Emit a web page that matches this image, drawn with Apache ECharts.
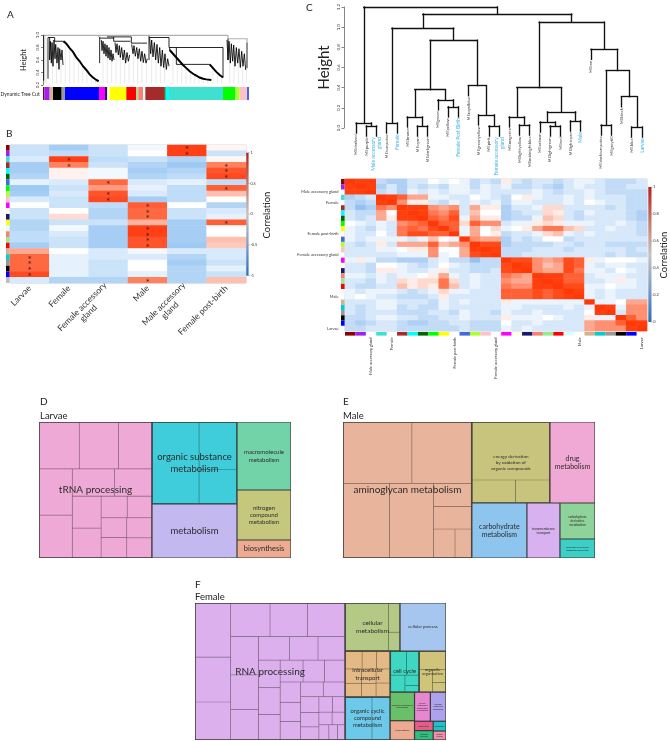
<!DOCTYPE html>
<html>
<head>
<meta charset="utf-8">
<title>WGCNA modules and GO treemaps</title>
<script src="https://cdn.jsdelivr.net/npm/echarts@6/dist/echarts.min.js"></script>
<style>
html,body{margin:0;padding:0;background:#fff;}
#chart{width:670px;height:741px;}
</style>
</head>
<body>
<div id="chart"></div>
<script>
// ======================= DATA =======================
// ---- Panel A: gene dendrogram + module colour bar ----
const aModuleOrder = ['darkred','purple','tan','black','grey60','blue','magenta','midnightblue','lightyellow','yellow','red','lightgreen','salmon','lightcyan','brown','darkgreen','cyan','turquoise','green','greenyellow','pink','royalblue'];
const aModuleSizes = [4,16,10,26,10,102,18,7,7,50,30,6,14,7,57,4,10,162,37,13,22,6];
const aTopBars = [
  [[2,0.995],[555,0.995]],
  [[555,0.995],[555,0.94],[612,0.94],[612,0.88]],
  [[167,0.995],[167,0.97]],
  [[315,0.995],[315,0.985]]
];
const aStems = [[6,0.99],[10,0.96],[28,0.92],[41,0.88],[54,0.86],[67,0.87],[80,0.79],[93,0.71],[106,0.6],[119,0.51],[132,0.43],[145,0.35],[158,0.29],[180,0.9],[193,0.84],[206,0.78],[219,0.86],[232,0.82],[245,0.76],[258,0.7],[271,0.83],[284,0.8],[297,0.74],[310,0.68],[326,0.92],[339,0.86],[352,0.79],[365,0.7],[390,0.7],[403,0.62],[416,0.55],[429,0.48],[442,0.41],[455,0.37],[468,0.33],[481,0.3],[494,0.29],[510,0.47],[523,0.4],[536,0.34],[560,0.9],[573,0.84],[586,0.78],[599,0.74],[610,0.6]];
const aBranches = [
  [[2,0.27],[2,0.995]],
  [[15,0.3],[15,0.96],[35,0.96],[35,0.9]],
  [[20,0.96],[20,0.6],[22,0.9],[25,0.55],[27,0.88],[30,0.5],[33,0.92],[36,0.62],[38,0.85],[42,0.55],[45,0.8],[48,0.45],[50,0.78],[54,0.6],[57,0.76],[60,0.52]],
  [[35,0.9],[62,0.9],[62,0.88]],
  [[170,0.97],[170,0.55]],
  [[170,0.95],[212,0.95]],
  [[175,0.92],[177,0.75],[180,0.9],[183,0.7],[186,0.86],[189,0.66],[192,0.84],[195,0.63],[198,0.8],[201,0.6],[204,0.76],[207,0.58],[210,0.7],[213,0.6]],
  [[192,0.97],[265,0.97]],
  [[212,0.97],[212,0.9],[262,0.9]],
  [[216,0.88],[219,0.72],[222,0.86],[226,0.68],[229,0.83],[232,0.64],[236,0.8],[240,0.6],[244,0.76],[248,0.55],[252,0.72],[256,0.58],[260,0.68]],
  [[265,0.97],[265,0.87],[312,0.87]],
  [[266,0.85],[270,0.7],[273,0.83],[277,0.66],[281,0.8],[285,0.62],[289,0.78],[293,0.58],[297,0.74],[301,0.56],[305,0.7],[309,0.55],[313,0.62]],
  [[318,0.6],[318,0.985]],
  [[318,0.96],[378,0.96]],
  [[320,0.95],[323,0.7],[326,0.92],[330,0.65],[334,0.88],[338,0.6],[342,0.85],[346,0.55],[350,0.8],[354,0.5],[358,0.76],[362,0.48],[366,0.7],[370,0.45],[374,0.62],[378,0.5]],
  [[378,0.96],[378,0.8],[540,0.8],[540,0.32]],
  [[380,0.8],[380,0.76]],
  [[400,0.8],[400,0.53],[500,0.53]],
  [[555,0.94],[555,0.6]],
  [[552,0.92],[555,0.6],[558,0.9],[562,0.55],[565,0.86],[569,0.58],[572,0.84],[576,0.5],[580,0.8],[584,0.55],[588,0.78],[592,0.48],[596,0.74],[600,0.5],[604,0.7],[608,0.44]],
  [[612,0.88],[612,0.47]]
];
const aCascades = [
  [[62,0.9],[70,0.86],[80,0.79],[90,0.73],[100,0.64],[110,0.58],[120,0.5],[130,0.44],[140,0.37],[150,0.32],[160,0.28],[167,0.26]],
  [[380,0.76],[390,0.7],[400,0.64],[410,0.58],[420,0.52],[430,0.47],[440,0.42],[450,0.38],[460,0.35],[470,0.32],[480,0.3],[490,0.29],[505,0.28]],
  [[500,0.53],[510,0.47],[520,0.41],[530,0.36],[540,0.32]]
];

// ---- Panel B: module-trait correlations ----
const traitsB = ['Larvae','Female','Female accessory gland','Male','Male accessory gland','Female post-birth'];
const modulesB = ['darkred','purple','turquoise','brown','cyan','darkgreen','royalblue','green','greenyellow','pink','magenta','lightyellow','midnightblue','yellow','lightcyan','salmon','lightgreen','red','tan','darkturquoise','grey60','black','blue','grey'];
const corB = [
  [-0.2,-0.35,-0.2,-0.05,0.9,0.05],
  [-0.2,-0.25,-0.2,0.0,0.9,-0.2],
  [-0.15,0.9,-0.25,-0.2,-0.3,0.05],
  [-0.35,0.6,-0.2,-0.3,-0.4,0.6],
  [-0.35,0.08,-0.05,-0.35,-0.3,0.8],
  [-0.3,0.08,-0.05,-0.3,-0.25,0.85],
  [-0.1,-0.15,0.7,-0.15,-0.1,-0.25],
  [-0.4,-0.2,0.5,-0.1,-0.25,0.75],
  [-0.35,-0.15,0.8,-0.15,-0.25,0.35],
  [-0.15,-0.2,0.85,-0.35,-0.25,0.0],
  [0.0,-0.2,-0.25,0.75,0.0,-0.3],
  [-0.2,0.0,-0.3,0.7,-0.2,-0.15],
  [-0.2,0.2,-0.3,0.7,-0.2,-0.1],
  [-0.3,-0.2,-0.2,0.4,-0.35,0.75],
  [-0.3,-0.05,-0.35,0.9,-0.35,0.0],
  [-0.25,-0.15,-0.35,0.9,-0.35,0.0],
  [-0.25,-0.2,-0.35,0.8,-0.35,0.35],
  [-0.35,-0.2,-0.35,0.8,-0.4,0.3],
  [0.45,0.0,-0.15,-0.05,-0.15,-0.15],
  [0.7,-0.1,-0.15,-0.15,-0.3,-0.15],
  [0.7,-0.1,-0.2,0.0,-0.35,-0.2],
  [0.7,-0.1,-0.2,0.0,-0.3,-0.1],
  [0.85,-0.1,-0.2,-0.1,-0.3,-0.2],
  [-0.15,-0.3,-0.3,0.6,-0.3,0.35]
];
// significant cells: [row, column]
const sigB = [[0,4],[1,4],[2,1],[3,1],[3,5],[4,5],[5,5],[6,2],[7,5],[8,2],[9,2],[10,3],[11,3],[12,3],[13,5],[14,3],[15,3],[16,3],[17,3],[19,0],[20,0],[21,0],[22,0],[23,3]];
const corBTicks = [1,0.5,0,-0.5,-1];

// ---- Panel C: eigengene dendrogram + adjacency heatmap ----
const leavesC = ['MEdarkred','MEpurple','Male accessory gland','MEturquoise','Female','MEbrown','MEcyan','MEdarkgreen','MEgreen','MEyellow','Female Post Birth','MEroyalblue','MEgreenyellow','MEpink','Female accessory gland','MEmagenta','MElightyellow','MEmidnightblue','MEsalmon','MElightgreen','MEred','MElightcyan','Male','MEtan','MEdarkturquoise','MEgrey60','MEblack','MEblue','Larvae'];
const leafModuleC = ['darkred','purple',null,'turquoise',null,'brown','cyan','darkgreen','green','yellow',null,'royalblue','greenyellow','pink',null,'magenta','lightyellow','midnightblue','salmon','lightgreen','red','lightcyan',null,'tan','darkturquoise','grey60','black','blue',null];
const heatLabelsC = ['','','Male accessory gland','','Female','','','','','','Female post-birth','','','','Female accessory gland','','','','','','','','Male','','','','','','Larvae'];
// hclust-style merges: negative = leaf position, positive = earlier merge; third = height
const mergeC = [
  [-2,-3,0.02],[-1,1,0.05],[-4,-5,0.05],[-7,-8,0.02],[-6,4,0.11],[-10,-11,0.21],[-9,6,0.28],[5,7,0.38],
  [-14,-15,0.02],[-13,9,0.13],[-12,10,0.42],[8,11,0.87],[3,12,0.99],[-17,-18,0.03],[-16,14,0.11],
  [-20,-21,0.02],[-19,16,0.06],[-22,-23,0.07],[17,18,0.16],[15,19,0.40],[-25,-26,0.03],[-28,-29,0.01],
  [-27,22,0.31],[21,23,0.57],[-24,24,0.78],[20,25,1.05],[13,26,1.13],[2,27,1.2]
];
const corC = [
  [0.98,0.95,0.95,0.35,0.3,0.3,0.4,0.4,0.5,0.45,0.5,0.45,0.35,0.4,0.35,0.55,0.4,0.35,0.4,0.4,0.35,0.4,0.45,0.45,0.4,0.35,0.35,0.35,0.4],
  [0.95,0.98,0.95,0.3,0.4,0.3,0.4,0.35,0.4,0.35,0.45,0.45,0.35,0.45,0.4,0.45,0.35,0.35,0.4,0.35,0.3,0.4,0.45,0.4,0.4,0.35,0.35,0.4,0.4],
  [0.95,0.95,0.98,0.35,0.4,0.3,0.45,0.4,0.45,0.4,0.45,0.45,0.4,0.45,0.4,0.4,0.4,0.4,0.45,0.4,0.35,0.4,0.4,0.45,0.4,0.35,0.35,0.35,0.35],
  [0.3,0.35,0.4,0.98,0.95,0.85,0.7,0.7,0.45,0.45,0.4,0.4,0.5,0.45,0.4,0.35,0.5,0.55,0.45,0.4,0.4,0.45,0.4,0.45,0.4,0.4,0.4,0.35,0.35],
  [0.35,0.3,0.35,0.95,0.98,0.75,0.55,0.55,0.4,0.35,0.45,0.4,0.45,0.4,0.45,0.35,0.45,0.45,0.4,0.4,0.4,0.45,0.4,0.5,0.45,0.4,0.4,0.35,0.35],
  [0.35,0.25,0.3,0.8,0.75,0.98,0.95,0.95,0.75,0.7,0.75,0.4,0.7,0.55,0.55,0.3,0.4,0.4,0.45,0.6,0.6,0.4,0.4,0.4,0.4,0.35,0.4,0.35,0.35],
  [0.4,0.35,0.35,0.7,0.5,0.95,0.98,0.95,0.8,0.75,0.85,0.4,0.65,0.5,0.5,0.3,0.35,0.4,0.4,0.6,0.55,0.4,0.35,0.45,0.4,0.4,0.4,0.35,0.3],
  [0.4,0.35,0.4,0.7,0.55,0.95,0.95,0.98,0.85,0.8,0.9,0.45,0.7,0.55,0.55,0.3,0.35,0.35,0.45,0.65,0.6,0.4,0.35,0.4,0.4,0.4,0.4,0.35,0.3],
  [0.5,0.45,0.4,0.45,0.4,0.75,0.8,0.85,0.98,0.85,0.85,0.6,0.85,0.75,0.75,0.4,0.45,0.45,0.55,0.6,0.55,0.45,0.45,0.45,0.4,0.4,0.45,0.4,0.35],
  [0.45,0.4,0.35,0.45,0.4,0.8,0.85,0.8,0.9,0.98,0.85,0.45,0.7,0.5,0.6,0.45,0.5,0.55,0.7,0.8,0.8,0.65,0.6,0.4,0.4,0.45,0.4,0.4,0.35],
  [0.45,0.4,0.4,0.5,0.4,0.8,0.9,0.9,0.85,0.85,0.98,0.45,0.7,0.5,0.55,0.35,0.4,0.4,0.45,0.6,0.65,0.45,0.4,0.45,0.4,0.4,0.4,0.4,0.35],
  [0.45,0.4,0.45,0.45,0.45,0.45,0.4,0.45,0.65,0.5,0.45,0.98,0.75,0.7,0.7,0.3,0.4,0.35,0.4,0.5,0.5,0.35,0.4,0.4,0.4,0.4,0.4,0.4,0.4],
  [0.4,0.35,0.4,0.55,0.4,0.7,0.7,0.7,0.85,0.65,0.7,0.75,0.98,0.9,0.9,0.3,0.35,0.35,0.35,0.35,0.4,0.4,0.35,0.4,0.4,0.35,0.35,0.35,0.35],
  [0.4,0.4,0.4,0.45,0.45,0.5,0.55,0.55,0.75,0.5,0.5,0.7,0.95,0.98,0.95,0.35,0.35,0.35,0.4,0.4,0.4,0.35,0.4,0.4,0.4,0.4,0.4,0.35,0.4],
  [0.4,0.4,0.4,0.4,0.4,0.45,0.45,0.45,0.75,0.45,0.5,0.7,0.9,0.95,0.98,0.35,0.35,0.4,0.4,0.4,0.4,0.4,0.4,0.4,0.4,0.35,0.4,0.35,0.35],
  [0.45,0.55,0.45,0.35,0.35,0.3,0.3,0.3,0.4,0.45,0.35,0.35,0.25,0.35,0.35,0.98,0.9,0.9,0.75,0.7,0.75,0.9,0.85,0.55,0.45,0.5,0.5,0.5,0.45],
  [0.4,0.4,0.35,0.5,0.5,0.45,0.4,0.35,0.4,0.5,0.45,0.4,0.35,0.35,0.35,0.9,0.98,0.95,0.75,0.65,0.7,0.9,0.85,0.45,0.4,0.45,0.45,0.4,0.4],
  [0.4,0.4,0.35,0.55,0.55,0.45,0.4,0.4,0.45,0.55,0.4,0.4,0.35,0.35,0.4,0.9,0.95,0.98,0.75,0.7,0.7,0.9,0.8,0.45,0.45,0.4,0.5,0.45,0.4],
  [0.45,0.45,0.4,0.45,0.4,0.45,0.45,0.5,0.55,0.7,0.45,0.4,0.45,0.4,0.4,0.8,0.75,0.7,0.98,0.95,0.95,0.85,0.85,0.4,0.45,0.45,0.45,0.4,0.4],
  [0.4,0.4,0.35,0.45,0.4,0.6,0.55,0.6,0.6,0.8,0.6,0.4,0.45,0.4,0.4,0.75,0.7,0.7,0.95,0.98,0.95,0.85,0.85,0.4,0.4,0.45,0.55,0.45,0.4],
  [0.4,0.35,0.35,0.4,0.4,0.65,0.55,0.6,0.55,0.8,0.65,0.4,0.45,0.4,0.4,0.8,0.75,0.75,0.95,0.95,0.98,0.9,0.9,0.45,0.45,0.5,0.45,0.45,0.4],
  [0.45,0.4,0.45,0.45,0.45,0.4,0.35,0.4,0.45,0.6,0.45,0.45,0.4,0.4,0.4,0.85,0.85,0.85,0.9,0.85,0.9,0.98,0.95,0.45,0.4,0.45,0.4,0.4,0.4],
  [0.45,0.5,0.45,0.4,0.4,0.35,0.35,0.35,0.4,0.55,0.4,0.4,0.4,0.4,0.4,0.85,0.85,0.85,0.9,0.85,0.9,0.95,0.98,0.45,0.4,0.45,0.4,0.4,0.4],
  [0.4,0.4,0.4,0.45,0.45,0.4,0.4,0.4,0.35,0.45,0.4,0.45,0.4,0.4,0.4,0.55,0.45,0.45,0.45,0.45,0.45,0.45,0.45,0.98,0.45,0.45,0.5,0.7,0.7],
  [0.4,0.35,0.4,0.45,0.45,0.35,0.4,0.35,0.35,0.45,0.4,0.4,0.4,0.4,0.4,0.45,0.45,0.4,0.4,0.4,0.4,0.45,0.4,0.45,0.98,0.95,0.45,0.75,0.75],
  [0.4,0.35,0.4,0.4,0.4,0.35,0.35,0.35,0.4,0.4,0.35,0.45,0.4,0.4,0.35,0.45,0.4,0.4,0.45,0.4,0.4,0.4,0.4,0.5,0.95,0.98,0.4,0.75,0.75],
  [0.35,0.35,0.4,0.45,0.45,0.4,0.4,0.35,0.35,0.4,0.4,0.45,0.4,0.4,0.4,0.55,0.45,0.45,0.45,0.5,0.45,0.4,0.4,0.55,0.45,0.45,0.98,0.85,0.75],
  [0.35,0.3,0.35,0.4,0.4,0.35,0.3,0.3,0.35,0.35,0.4,0.4,0.35,0.35,0.35,0.5,0.4,0.4,0.45,0.4,0.4,0.4,0.4,0.7,0.75,0.75,0.85,0.98,0.95],
  [0.35,0.35,0.4,0.4,0.4,0.35,0.35,0.35,0.35,0.35,0.35,0.4,0.35,0.35,0.35,0.45,0.4,0.45,0.4,0.4,0.4,0.4,0.4,0.7,0.75,0.75,0.75,0.95,0.98]
];
const corCTicks = [1,0.8,0.6,0.4,0.2,0];

// ---- Panels D, E, F: GO term treemaps ----
const dTerms = ['tRNA processing','organic substance metabolism','metabolism','macromolecule metabolism','nitrogen compound metabolism','biosynthesis'];
const dValues = [15368,6970,4590,3672,2700,972];
const dSubValues = [[16891,13965,13965,12733,10710,9282,16740,7776,5184,8470,4800,4560,4680,4446,4680],[3864,1794,1312],[],[],[],[]];

const eTerms = ['aminoglycan metabolism','energy derivation by oxidation of organic compounds','drug metabolism','carbohydrate metabolism','transmembrane transport','carbohydrate derivative metabolism','generation of precursor metabolites and energy'];
const eValues = [17500,6318,3645,3025,1815,1260,665];
const eSubValues = [[4209,3660,3450,3304,896,858,624,468],[4544,994,780],[],[],[],[],[]];

const fTerms = ['RNA processing','cellular metabolism','cellular process','intracellular transport','organic cyclic compound metabolism','cell cycle','organelle organization','negative regulation of biosynthesis','biosynthesis','cellular component organization or biogenesis','nitrogen compound metabolism','response to stress','methylation','localization','protein folding'];
const fValues = [20550,2640,2208,2070,1935,1189,1107,696,470,460,455,175,175,125,115];
const fSubValues = [[1806,1512,1260,1248,1184,1176,1024,924,800,700,650,600,575,560,520,480,450,420,400,380,350,320,300,280,250,220,200,180,160,150,140,120,100],[2100,330,210],[],[300,260,240,240,220,220,200,200,190],[1161,774],[400,300,250,150,89],[500,300,180,127],[],[],[],[],[],[],[],[]];

// ======================= STYLE =======================
const FONT = 'Lato, "Open Sans", "DejaVu Sans", sans-serif';
const TXT = '#2b2b2b';
const NONE = 'rgba(0,0,0,0)';
const moduleHex = {darkred:'#8B0000',purple:'#A020F0',turquoise:'#40E0D0',brown:'#A52A2A',cyan:'#00FFFF',darkgreen:'#006400',royalblue:'#4169E1',green:'#00FF00',greenyellow:'#ADFF2F',pink:'#FFC0CB',magenta:'#FF00FF',lightyellow:'#FFFFE0',midnightblue:'#191970',yellow:'#FFFF00',lightcyan:'#E0FFFF',salmon:'#FA8072',lightgreen:'#90EE90',red:'#FF0000',tan:'#D2B48C',darkturquoise:'#00CED1',grey60:'#999999',black:'#000000',blue:'#0000FF',grey:'#BEBEBE'};
const termStyle = {
  'tRNA processing':{c:'#EFA9D6',t:'tRNA processing',s:10},
  'organic substance metabolism':{c:'#3FCCDB',t:'organic substance\nmetabolism',s:9.5},
  'metabolism':{c:'#C3B8F0',t:'metabolism',s:9.5},
  'macromolecule metabolism':{c:'#72D3A8',t:'macromolecule\nmetabolism',s:6},
  'nitrogen compound metabolism':{c:'#C5C77C',t:'nitrogen\ncompound\nmetabolism',s:6},
  'biosynthesis':{c:'#EDAB92',t:'biosynthesis',s:7.5},
  'aminoglycan metabolism':{c:'#E9B49C',t:'aminoglycan metabolism',s:10},
  'energy derivation by oxidation of organic compounds':{c:'#C8C47E',t:'energy derivation\nby oxidation of\norganic compounds',s:4.6},
  'drug metabolism':{c:'#F0A8D4',t:'drug\nmetabolism',s:7},
  'carbohydrate metabolism':{c:'#8EC5EE',t:'carbohydrate\nmetabolism',s:7},
  'transmembrane transport':{c:'#D8B2F0',t:'transmembrane\ntransport',s:3.4},
  'carbohydrate derivative metabolism':{c:'#8ED39A',t:'carbohydrate\nderivative\nmetabolism',s:3.2},
  'generation of precursor metabolites and energy':{c:'#3CCFC6',t:'generation of precursor\nmetabolites and energy',s:2.2},
  'RNA processing':{c:'#DBB0EC',t:'RNA processing',s:10},
  'cellular metabolism':{c:'#B5C987',t:'cellular\nmetabolism',s:6.5},
  'cellular process':{c:'#A6C6F0',t:'cellular process',s:4.4},
  'intracellular transport':{c:'#E3B985',t:'intracellular\ntransport',s:6},
  'organic cyclic compound metabolism':{c:'#6CC9E9',t:'organic cyclic\ncompound\nmetabolism',s:5.8},
  'cell cycle':{c:'#3DD7C2',t:'cell cycle',s:5.8},
  'organelle organization':{c:'#CFC47A',t:'organelle\norganization',s:3.8},
  'negative regulation of biosynthesis':{c:'#6ABF6A',t:'negative regulation of\nbiosynthesis',s:2.2},
  'biosynthesis ':{c:'#EDAA92',t:'biosynthesis',s:2.6},
  'cellular component organization or biogenesis':{c:'#E787D1',t:'cellular\ncomponent\norganization\nor biogenesis',s:2},
  'nitrogen compound metabolism ':{c:'#AFA2EC',t:'nitrogen\ncompound\nmetabolism',s:2},
  'response to stress':{c:'#2EBF7E',t:'response\nto stress',s:2},
  'methylation':{c:'#E55C8A',t:'methylation',s:2},
  'localization':{c:'#21C2C5',t:'localization',s:2},
  'protein folding':{c:'#F08FA8',t:'protein\nfolding',s:2}
};
// panel F reuses two term names that already exist in D; look them up with a panel key
function styleOf(panel, name){
  if (panel === 'F' && (name === 'biosynthesis' || name === 'nitrogen compound metabolism')) return termStyle[name + ' '];
  return termStyle[name];
}
function shade(hex, f){
  const n = parseInt(hex.slice(1),16);
  return 'rgb(' + Math.round(((n>>16)&255)*f) + ',' + Math.round(((n>>8)&255)*f) + ',' + Math.round((n&255)*f) + ')';
}

// ======================= BUILD =======================
const chart = echarts.init(document.getElementById('chart'), null, {renderer:'canvas', width:670, height:741});

// Panel A colour bar intervals from module sizes
let acc = 0;
const aBarData = aModuleSizes.map((s,i) => { const d = [acc, acc + s, i]; acc += s; return d; });
const aTotal = acc;

// Panel C dendrogram segments from merge table
const hangC = 0.1;
function buildDendro(merges){
  const pos = [], ht = [], segs = [], leafBottom = [];
  const X = id => id < 0 ? -id : pos[id];
  merges.forEach((m, r) => {
    const id = r + 1, a = m[0], b = m[1], h = m[2];
    [a, b].forEach(c => {
      let y0;
      if (c < 0) { y0 = h - hangC; leafBottom[-c] = y0; } else { y0 = ht[c]; }
      segs.push({coords:[[X(c), y0], [X(c), h]]});
    });
    segs.push({coords:[[X(a), h], [X(b), h]]});
    pos[id] = (X(a) + X(b)) / 2; ht[id] = h;
  });
  return {segs, leafBottom};
}
const dendroC = buildDendro(mergeC);

const grids = [
  {left:43, top:35, width:206, height:50},            // 0 A dendrogram
  {left:43, top:87, width:206, height:13},            // 1 A colour bar
  {left:6, top:145, width:3.7, height:138},           // 2 B strip
  {left:10, top:145, width:236, height:138, show:true, borderColor:'#c4c4c4', borderWidth:0.8, backgroundColor:'transparent'}, // 3 B heatmap
  {left:351, top:7, width:296, height:121},           // 4 C dendrogram
  {left:345, top:179, width:302, height:152, show:true, borderColor:'#cfcfcf', borderWidth:0.8, backgroundColor:'transparent'}, // 5 C heatmap
  {left:341, top:179, width:3.6, height:152},         // 6 C row strip
  {left:345, top:332, width:302, height:3.6}          // 7 C column strip
];

const wrapB = {'Female accessory gland':'{c|Female accessory}\n{c|gland}', 'Male accessory gland':'{c|Male accessory}\n{c|gland}'};

const xAxes = [
  {gridIndex:0, type:'value', min:0, max:aTotal, show:false},
  {gridIndex:1, type:'value', min:0, max:aTotal, show:false},
  {gridIndex:2, type:'category', data:['strip'], show:false},
  {gridIndex:3, type:'category', data:traitsB, axisLine:{show:false}, axisTick:{show:false},
    axisLabel:{interval:0, rotate:45, margin:4, fontSize:8.5, color:'#333', fontFamily:FONT,
      formatter: v => wrapB[v] || v,
      rich:{c:{align:'center', fontSize:8.5, color:'#333', fontFamily:FONT, lineHeight:9}}}},
  {gridIndex:4, type:'value', min:0.5, max:leavesC.length + 0.5, show:false},
  {gridIndex:5, type:'category', data:leavesC, axisLine:{show:false}, axisTick:{show:false},
    axisLabel:{interval:0, rotate:90, margin:6.5, fontSize:4, color:'#333', fontFamily:FONT, formatter:(v,i) => heatLabelsC[i]}},
  {gridIndex:6, type:'category', data:['strip'], show:false},
  {gridIndex:7, type:'category', data:leavesC, show:false}
];
const yAxes = [
  {gridIndex:0, type:'value', min:0.2, max:1.0, interval:0.2, name:'Height', nameLocation:'middle', nameRotate:90, nameGap:15,
    nameTextStyle:{fontSize:7.5, color:'#222', fontFamily:FONT},
    axisLine:{show:true, lineStyle:{color:'#333', width:0.6}}, axisTick:{show:true, length:2, lineStyle:{color:'#333', width:0.6}},
    splitLine:{show:false}, axisLabel:{rotate:90, fontSize:4.5, margin:3, color:'#333', fontFamily:FONT, formatter:v => v.toFixed(1)}},
  {gridIndex:1, type:'value', min:0, max:1, show:false},
  {gridIndex:2, type:'category', data:modulesB, inverse:true, show:false},
  {gridIndex:3, type:'category', data:modulesB, inverse:true, show:false},
  {gridIndex:4, type:'value', min:0, max:1.2, interval:0.2, offset:7, name:'Height', nameLocation:'middle', nameRotate:90, nameGap:12,
    nameTextStyle:{fontSize:15, color:'#222', fontFamily:FONT},
    axisLine:{show:true, lineStyle:{color:'#333', width:0.6}}, axisTick:{show:true, length:2.5, lineStyle:{color:'#333', width:0.6}},
    splitLine:{show:false}, axisLabel:{rotate:90, fontSize:4.5, margin:2.5, color:'#333', fontFamily:FONT, formatter:v => v.toFixed(1)}},
  {gridIndex:5, type:'category', data:leavesC, inverse:true, axisLine:{show:false}, axisTick:{show:false},
    axisLabel:{interval:0, margin:6.5, fontSize:4, color:'#333', fontFamily:FONT, formatter:(v,i) => heatLabelsC[i]}},
  {gridIndex:6, type:'category', data:leavesC, inverse:true, show:false},
  {gridIndex:7, type:'category', data:['strip'], show:false}
];

function rectCell(api, fill){
  const c = api.coord([api.value(0), api.value(1)]);
  const s = api.size([1, 1]);
  return {type:'rect', shape:{x:c[0] - s[0]/2, y:c[1] - s[1]/2, width:s[0], height:s[1]}, style:{fill:fill}};
}

const series = [];
// --- Panel A ---
series.push({type:'lines', coordinateSystem:'cartesian2d', xAxisIndex:0, yAxisIndex:0, polyline:true, silent:true, clip:false,
  lineStyle:{color:'#d2d2d2', width:0.5, opacity:1}, data:aStems.map(s => ({coords:[[s[0],0.225],[s[0],s[1]]]}))});
series.push({type:'lines', coordinateSystem:'cartesian2d', xAxisIndex:0, yAxisIndex:0, polyline:true, silent:true, clip:false,
  lineStyle:{color:'#b0b0b0', width:1.2, opacity:1}, data:aTopBars.map(p => ({coords:p}))});
series.push({type:'lines', coordinateSystem:'cartesian2d', xAxisIndex:0, yAxisIndex:0, polyline:true, silent:true, clip:false,
  lineStyle:{color:'#000', width:0.85, opacity:1}, data:aBranches.map(p => ({coords:p}))});
series.push({type:'lines', coordinateSystem:'cartesian2d', xAxisIndex:0, yAxisIndex:0, polyline:true, silent:true, clip:false,
  lineStyle:{color:'#000', width:2.0, opacity:1}, data:aCascades.map(p => ({coords:p}))});
series.push({type:'custom', coordinateSystem:'cartesian2d', xAxisIndex:1, yAxisIndex:1, silent:true, data:aBarData,
  renderItem:(params, api) => {
    const p0 = api.coord([api.value(0), 1]), p1 = api.coord([api.value(1), 0]);
    return {type:'rect', shape:{x:p0[0], y:p0[1], width:p1[0]-p0[0], height:p1[1]-p0[1]}, style:{fill:moduleHex[aModuleOrder[api.value(2)]]}};
  }});
// --- Panel B ---
series.push({type:'custom', coordinateSystem:'cartesian2d', xAxisIndex:2, yAxisIndex:2, silent:true,
  data:modulesB.map((m,i) => [0, i]),
  renderItem:(params, api) => rectCell(api, moduleHex[modulesB[api.value(1)]])});
const heatBIndex = series.length;
const heatBData = [];
corB.forEach((row, r) => row.forEach((v, c) => heatBData.push([c, r, v])));
series.push({type:'heatmap', xAxisIndex:3, yAxisIndex:3, silent:true, data:heatBData, itemStyle:{borderWidth:0}});
series.push({type:'custom', coordinateSystem:'cartesian2d', xAxisIndex:3, yAxisIndex:3, silent:true, z:4,
  data:sigB.map(s => [s[1], s[0]]),
  renderItem:(params, api) => {
    const c = api.coord([api.value(0), api.value(1)]);
    return {type:'text', x:c[0], y:c[1] + 1.6, style:{text:'*', fontSize:7, fontFamily:'DejaVu Sans', fill:'#3a1a10', align:'center', verticalAlign:'middle'}};
  }});
// --- Panel C dendrogram ---
series.push({type:'lines', coordinateSystem:'cartesian2d', xAxisIndex:4, yAxisIndex:4, silent:true, clip:false,
  lineStyle:{color:'#111', width:1.35, opacity:1, cap:'square'}, data:dendroC.segs});
series.push({type:'custom', coordinateSystem:'cartesian2d', xAxisIndex:4, yAxisIndex:4, silent:true, clip:false,
  data:leavesC.map((n,i) => [i + 1, dendroC.leafBottom[i + 1], i]),
  renderItem:(params, api) => {
    const i = api.value(2);
    const c = api.coord([api.value(0), api.value(1)]);
    const isTrait = leafModuleC[i] === null;
    const txt = leavesC[i].replace(' accessory gland', ' accessory\ngland');
    return {type:'text', x:c[0], y:c[1] + 1.2, rotation:Math.PI/2,
      style:{text:txt, fontSize:isTrait ? 5 : 4.3, lineHeight:isTrait ? 6 : 5, fontFamily:FONT, fill:isTrait ? '#45B3E6' : '#444', align:'right', verticalAlign:'middle'}};
  }});
// --- Panel C heatmap ---
const heatCIndex = series.length;
const heatCData = [];
corC.forEach((row, r) => row.forEach((v, c) => heatCData.push([c, r, v])));
series.push({type:'heatmap', xAxisIndex:5, yAxisIndex:5, silent:true, data:heatCData, itemStyle:{borderWidth:0}});
series.push({type:'custom', coordinateSystem:'cartesian2d', xAxisIndex:6, yAxisIndex:6, silent:true,
  data:leafModuleC.map((m,i) => [0, i]).filter(d => leafModuleC[d[1]] !== null),
  renderItem:(params, api) => rectCell(api, moduleHex[leafModuleC[api.value(1)]])});
series.push({type:'custom', coordinateSystem:'cartesian2d', xAxisIndex:7, yAxisIndex:7, silent:true,
  data:leafModuleC.map((m,i) => [i, 0]).filter(d => leafModuleC[d[0]] !== null),
  renderItem:(params, api) => rectCell(api, moduleHex[leafModuleC[api.value(0)]])});

// --- Treemaps D/E/F ---
function treemapPair(panel, rect, terms, values, subs){
  const base = {type:'treemap', left:rect[0], top:rect[1], width:rect[2], height:rect[3],
    roam:false, nodeClick:false, silent:true, animation:false, breadcrumb:{show:false},
    squareRatio:1, sort:'desc', visibleMin:0, upperLabel:{show:false}};
  const bg = Object.assign({}, base, {
    z:2,
    label:{show:false},
    itemStyle:{borderWidth:0, gapWidth:0, borderColor:'#3a3a3a'},
    levels:[{itemStyle:{borderWidth:0, gapWidth:0, borderColor:'#3a3a3a'}}, {itemStyle:{borderWidth:0.6, gapWidth:0, borderColor:'#3a3a3a'}}, {itemStyle:{borderWidth:0.35, gapWidth:0}}],
    data:terms.map((t,i) => {
      const col = styleOf(panel, t).c;
      return {name:t, value:values[i], itemStyle:{color:col, borderColor:'#3a3a3a', borderWidth:0.6},
        children:subs[i].map((v,k) => ({name:t + ' #' + (k + 1), value:v, itemStyle:{color:col, borderColor:shade(col, 0.62), borderWidth:0.35}}))};
    })
  });
  const fg = Object.assign({}, base, {
    z:6,
    itemStyle:{borderWidth:0, gapWidth:0, borderColor:NONE, color:NONE},
    levels:[{itemStyle:{borderWidth:0, gapWidth:0, borderColor:NONE, color:NONE}}, {itemStyle:{borderWidth:0, gapWidth:0, borderColor:NONE, color:NONE}}],
    label:{show:true, position:'inside', color:TXT, fontFamily:FONT, overflow:'none', padding:0},
    data:terms.map((t,i) => {
      const st = styleOf(panel, t);
      return {name:t, value:values[i], itemStyle:{color:NONE, borderColor:NONE, borderWidth:0},
        label:{fontSize:st.s, lineHeight:st.s * 1.2, formatter:() => st.t}};
    })
  });
  return [bg, fg];
}
series.push(...treemapPair('D', [39,422,252,136], dTerms, dValues, dSubValues));
series.push(...treemapPair('E', [343,422,252,136], eTerms, eValues, eSubValues));
series.push(...treemapPair('F', [195,603,251,137], fTerms, fValues, fSubValues));

// --- colour bars and text ---
function colourBar(x, y, w, h, ticks, tMin, tMax, fmt){
  const els = [{type:'rect', shape:{x:x, y:y, width:w, height:h}, silent:true,
    style:{fill:new echarts.graphic.LinearGradient(0,0,0,1,[{offset:0,color:'#B2221C'},{offset:0.25,color:'#C4776E'},{offset:0.5,color:'#C3C3C3'},{offset:0.75,color:'#7D9FC7'},{offset:1,color:'#2F6DB5'}])}}];
  ticks.forEach(t => {
    const yy = y + (tMax - t) / (tMax - tMin) * h;
    els.push({type:'line', silent:true, shape:{x1:x + w, y1:yy, x2:x + w + 1.2, y2:yy}, style:{stroke:'#555', lineWidth:0.4}});
    els.push({type:'text', silent:true, x:x + w + 1.8, y:yy, style:{text:fmt(t), fontSize:3.9, fontFamily:FONT, fill:'#333', align:'left', verticalAlign:'middle'}});
  });
  return els;
}
function label(text, x, y, size, extra){
  return Object.assign({type:'text', silent:true, x:x, y:y, style:{text:text, fontSize:size, fontFamily:FONT, fill:'#222', align:'left', verticalAlign:'top'}}, extra || {});
}
const graphics = [
  label('A', 7, 10, 10), label('B', 6, 129, 10), label('C', 306, 3, 10),
  label('D', 40, 397, 10), label('E', 343, 397, 10), label('F', 195, 580, 10),
  label('Larvae', 40, 411, 9.5), label('Male', 343, 411, 9.5), label('Female', 195, 592, 9.5),
  label('Dynamic Tree Cut', 0.5, 91.5, 5),
  {type:'text', silent:true, x:267, y:215, rotation:Math.PI/2, style:{text:'Correlation', fontSize:9.5, fontFamily:FONT, fill:'#222', align:'center', verticalAlign:'middle'}},
  {type:'text', silent:true, x:664, y:255, rotation:Math.PI/2, style:{text:'Correlation', fontSize:9.5, fontFamily:FONT, fill:'#222', align:'center', verticalAlign:'middle'}}
].concat(colourBar(245.8, 152.7, 2.8, 123, corBTicks, -1, 1, t => String(t)))
 .concat(colourBar(648.3, 187, 3.2, 135, corCTicks, 0, 1, t => String(t)));

chart.setOption({
  animation:false,
  backgroundColor:'#ffffff',
  textStyle:{fontFamily:FONT},
  grid:grids,
  xAxis:xAxes,
  yAxis:yAxes,
  visualMap:[
    {type:'continuous', show:false, seriesIndex:heatBIndex, min:-1, max:1,
      inRange:{color:['#2C73C8','#6FAEEB','#A9D0F5','#FFFFFF','#FDC4B5','#FF7048','#FF2A00']}},
    {type:'continuous', show:false, seriesIndex:heatCIndex, min:0, max:1,
      inRange:{color:['#1565C0','#3D85D6','#7AB1EA','#AED0F4','#D6E8FA','#FFFFFF','#FDD9CE','#FCA78F','#FF7650','#FF4A1A','#FF3300']}}
  ],
  graphic:graphics,
  series:series
});
</script>
</body>
</html>
